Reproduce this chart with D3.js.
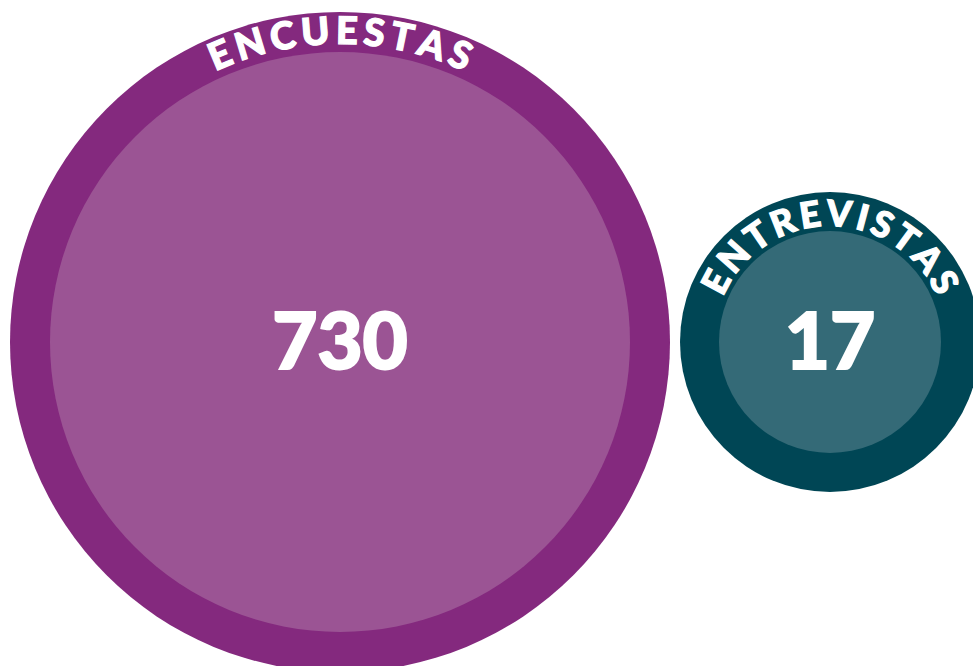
<!DOCTYPE html>
<html><head><meta charset="utf-8">
<script src="https://cdn.jsdelivr.net/npm/d3@7"></script>
<style>html,body{margin:0;padding:0;background:#fff;overflow:hidden}</style>
</head><body>
<svg id="c" width="973" height="666"></svg>
<script>
const categories = ["ENCUESTAS", "ENTREVISTAS"];
const values = [730, 17];
const outerColors = ["#84297e", "#004655"];
const innerColors = ["#9b5494", "#346a77"];

const svg = d3.select("#c");
const rScale = d3.scaleLinear().domain([17, 730]).range([150, 330]);
const xScale = d3.scalePoint().domain(categories).range([340, 830]);
const cy = 342;
const ring = d3.scaleLinear().domain([17, 730]).range([39, 40]);

const data = categories.map((c, i) => ({cat: c, val: values[i], outer: outerColors[i], inner: innerColors[i]}));

const g = svg.selectAll("g.item").data(data).join("g").attr("class", "item")
  .attr("transform", d => `translate(${xScale(d.cat)},${cy})`);

g.append("circle").attr("r", d => rScale(d.val)).attr("fill", d => d.outer);
g.append("circle").attr("r", d => rScale(d.val) - ring(d.val)).attr("fill", d => d.inner);

const fontSizes = [38, 36], spacing = [5, 3.5];
g.each(function(d, i) {
  const grp = d3.select(this);
  const fs = fontSizes[i];
  const r = rScale(d.val) - ring(d.val) + (d.val > 100 ? 8 : 5);
  const letters = d.cat.split("");
  const meas = svg.append("text").attr("font-family", "Lato").attr("font-weight", 900)
    .attr("font-size", fs);
  const widths = letters.map(ch => { meas.text(ch); return meas.node().getComputedTextLength() + spacing[i]; });
  meas.remove();
  const total = d3.sum(widths) - spacing[i];
  let cum = -total / 2;
  letters.forEach((ch, k) => {
    const w = widths[k] - spacing[i];
    const ang = (cum + w / 2) / r * 180 / Math.PI;
    cum += widths[k];
    grp.append("text")
      .attr("font-family", "Lato").attr("font-weight", 900).attr("font-size", fs)
      .attr("fill", "#fff").attr("stroke", "#fff").attr("stroke-width", 1.2)
      .attr("text-anchor", "middle")
      .attr("transform", `rotate(${ang}) translate(0,${-r})`)
      .text(ch);
  });
});

g.append("text")
  .attr("font-family", "Lato")
  .attr("font-weight", 900)
  .attr("font-size", 78)
  .attr("fill", "#fff")
  .attr("stroke", "#fff")
  .attr("stroke-width", 2)
  .attr("text-anchor", "middle")
  .attr("y", 27)
  .text(d => d3.format("d")(d.val));
</script>
</body></html>
